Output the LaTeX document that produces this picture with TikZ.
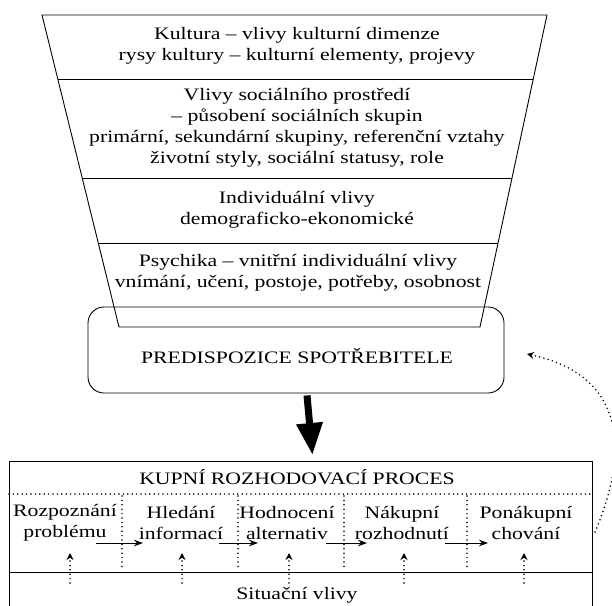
\documentclass[tikz,border=0pt]{standalone}
\usepackage{fontspec}
\setmainfont[FakeStretch=1.24]{Liberation Serif}
\usetikzlibrary{arrows.meta,calc}
\begin{document}
\begin{tikzpicture}[x=1pt,y=-1pt,
  outline/.style={draw=black, line width=0.9pt},
  txt/.style={font=\fontsize{17.5}{21}\selectfont, align=center, inner sep=0pt},
  dotline/.style={line width=1.7pt, dash pattern=on 0pt off 4.4pt, line cap=round},
  flow/.style={line width=0.9pt, -{Stealth[length=9pt,width=6.5pt]}},
  influence/.style={dotline, -{Stealth[length=7pt,width=7pt]}},
  bigarrow/.style={line width=7pt, -{Triangle[length=32pt,width=25pt]}},
]
\useasboundingbox[fill=white] (0,0) rectangle (612,605);

% predisposition box
\node[outline, rounded corners=16pt, minimum width=416pt, minimum height=86pt, inner sep=0pt] (pred) at (296,350) {};
\node[txt] (predtext) at (297,356) {PREDISPOZICE SPOTŘEBITELE};

% funnel
\coordinate (TL) at (42,15);
\coordinate (TR) at (547,15);
\coordinate (BR) at (480,327);
\coordinate (BL) at (119,327);
\draw[outline] (TL) -- (TR) -- (BR) -- (BL) -- cycle;
\foreach \t/\n in {0.2051/a, 0.5224/b, 0.7308/c}{
  \coordinate (L\n) at ($(TL)!\t!(BL)$);
  \coordinate (R\n) at ($(TR)!\t!(BR)$);
  \draw[outline] (L\n) -- (R\n);
}
\node[txt] (kultura) at (297,46) {Kultura – vlivy kulturní dimenze\\rysy kultury – kulturní elementy, projevy};
\node[txt] (social) at (297,128) {Vlivy sociálního prostředí\\– působení sociálních skupin\\primární, sekundární skupiny, referenční vztahy\\životní styly, sociální statusy, role};
\node[txt] (indiv) at (297,210) {Individuální vlivy\\demograficko-ekonomické};
\node[txt] (psych) at (298,273) {Psychika – vnitřní individuální vlivy\\vnímání, učení, postoje, potřeby, osobnost};

% process box
\node[outline, minimum width=583pt, minimum height=170pt, inner sep=0pt, anchor=north west] (proc) at (9,461) {};
\draw[bigarrow] ($(pred.south)+(11,2)$) -- ($(proc.north)+(11.5,-6)$);
\node[txt] (ktitle) at (297,477) {KUPNÍ ROZHODOVACÍ PROCES};
\coordinate (dotL) at (9,494);
\coordinate (dotR) at (592,494);
\draw[dotline] (dotL) -- (dotR);
\coordinate (solL) at (9,572);
\coordinate (solR) at (592,572);
\draw[outline] (solL) -- (solR);
\foreach \x [count=\i] in {122,238,344,467}{
  \coordinate (dt\i) at (\x,496);
  \coordinate (db\i) at (\x,570);
  \draw[dotline] (dt\i) -- (db\i);
}
\node[txt] (s1) at (65,523) {Rozpoznání\\problému};
\node[txt] (s2) at (181,523) {Hledání\\informací};
\node[txt] (s3) at (287,523) {Hodnocení\\alternativ};
\node[txt] (s4) at (402,523) {Nákupní\\rozhodnutí};
\node[txt] (s5) at (526,523) {Ponákupní\\chování};
\foreach \a/\b [count=\i] in {96/143, 219/258, 326/367, 445/488}{
  \coordinate (ha\i) at (\a,543);
  \coordinate (hb\i) at (\b,543);
  \draw[flow] (ha\i) -- (hb\i);
}
\foreach \x [count=\i] in {70,182,289,404,524}{
  \coordinate (ua\i) at (\x,583);
  \coordinate (ub\i) at (\x,553);
  \draw[influence] (ua\i) -- (ub\i);
}
\node[txt] (situ) at (297,595.5) {Situační vlivy};

% feedback
\coordinate (fbA) at (595,532);
\coordinate (fbB) at (527,354);
\draw[influence] (fbA) .. controls (630,450) and (625,375) .. (fbB);
\end{tikzpicture}
\end{document}
